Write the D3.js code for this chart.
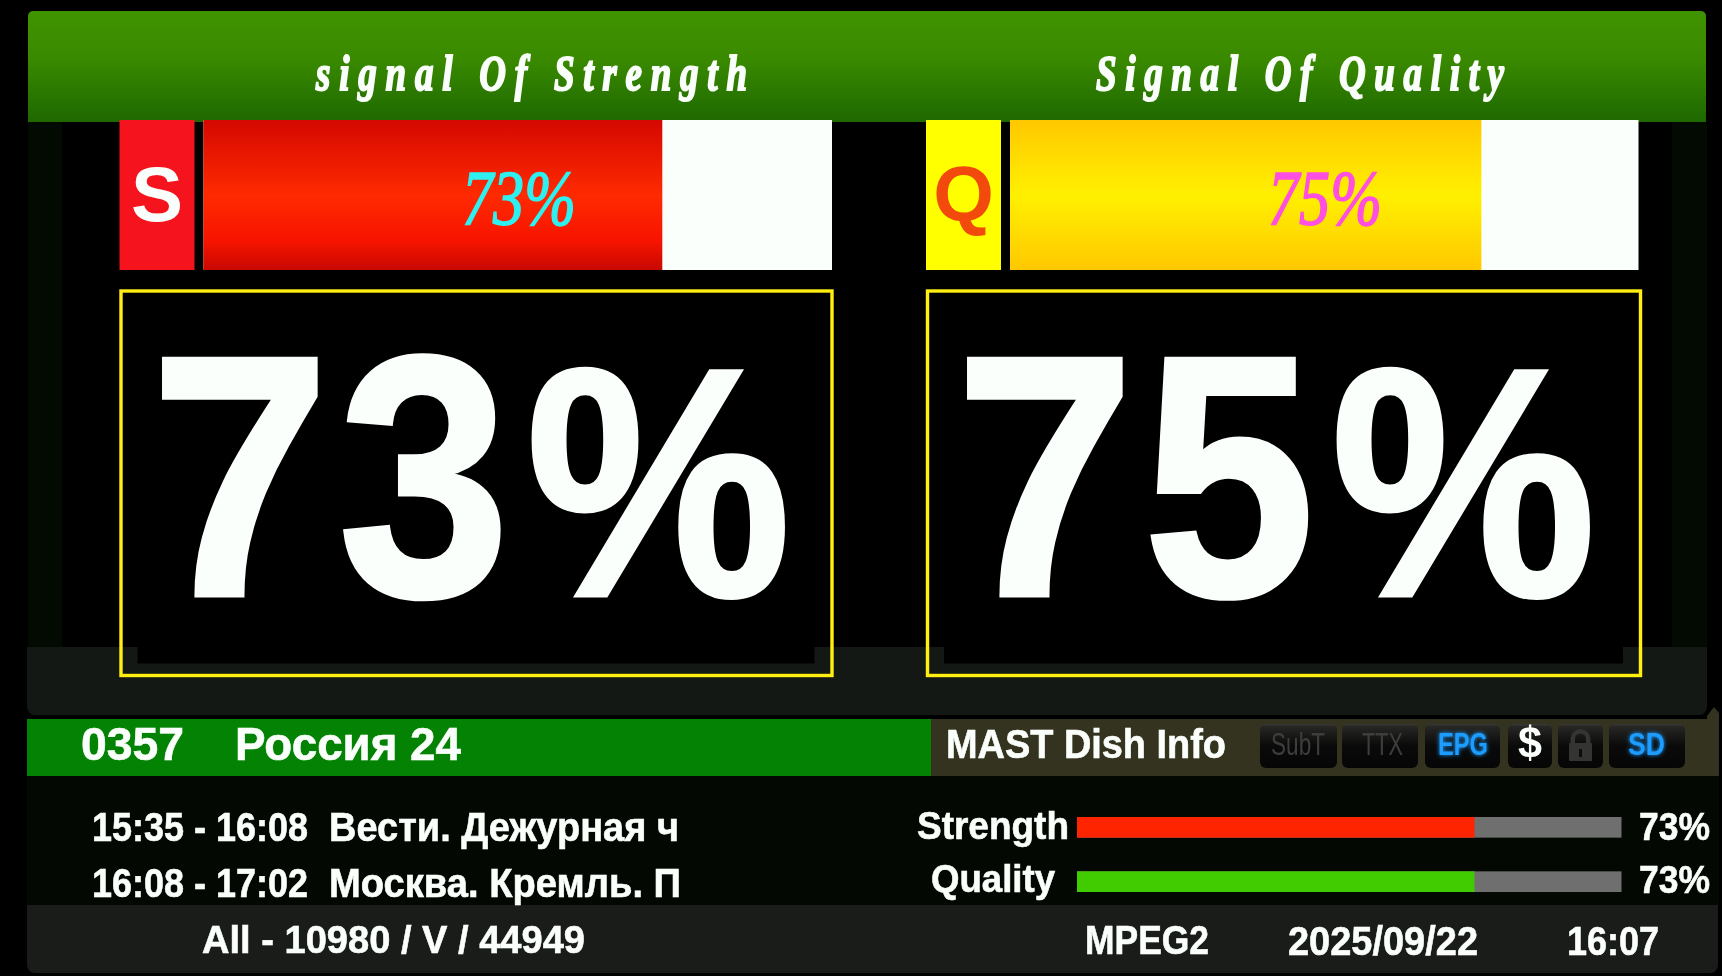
<!DOCTYPE html>
<html>
<head>
<meta charset="utf-8">
<script src="https://cdn.jsdelivr.net/npm/d3@7"></script>
<style>
  html, body { margin: 0; padding: 0; background: #000; overflow: hidden; }
  svg { display: block; }
  text { font-family: "Liberation Sans", Arial, sans-serif; font-weight: 700; fill: #fbfffb; }
</style>
</head>
<body>
<svg id="osd" width="1722" height="976"></svg>
<script>
// top panels
const signalTitles = ["signal Of Strength", "Signal Of Quality"];
const signalLetters = ["S", "Q"];
const signalValues = [73, 75];

// info bar
const channelNumber = "0357";
const channelName = "Россия 24";
const infoTitle = "MAST Dish Info";
const badges = ["SubT", "TTX", "EPG", "$", "", "SD"];

// epg and small meters
const epgTimes = ["15:35 - 16:08", "16:08 - 17:02"];
const epgNames = ["Вести. Дежурная ч", "Москва. Кремль. П"];
const meterLabels = ["Strength", "Quality"];
const meterValues = [73, 73];

// footer
const tpInfo = "All - 10980 / V / 44949";
const codec = "MPEG2";
const dateText = "2025/09/22";
const timeText = "16:07";

const svg = d3.select("#osd");
const defs = svg.append("defs");

function gradient(id, stops) {
    const g = defs.append("linearGradient").attr("id", id)
        .attr("x1", 0).attr("y1", 0).attr("x2", 0).attr("y2", 1);
    stops.forEach(s => g.append("stop").attr("offset", s[0]).attr("stop-color", s[1]));
}
gradient("headGrad", [[0, "#3f9200"], [0.4, "#3a8a00"], [1, "#1e6800"]]);
gradient("redGrad", [[0, "#d40800"], [0.5, "#ff2a00"], [0.8, "#f81400"], [1, "#c80800"]]);
gradient("amberGrad", [[0, "#ffc800"], [0.5, "#fff000"], [1, "#ffc800"]]);
gradient("chipGrad", [[0, "#3a3a38"], [0.06, "#262624"], [0.5, "#0a0a0a"], [1, "#060606"]]);

defs.append("filter").attr("id", "soft")
    .append("feGaussianBlur").attr("stdDeviation", 0.7);

// blue badge text has a glow round it
const glow = defs.append("filter").attr("id", "glow")
    .attr("x", "-30%").attr("y", "-30%").attr("width", "160%").attr("height", "160%");
glow.append("feGaussianBlur").attr("stdDeviation", 2.2).attr("result", "wide");
glow.append("feGaussianBlur").attr("in", "SourceGraphic").attr("stdDeviation", 0.6).attr("result", "thin");
const glowMerge = glow.append("feMerge");
glowMerge.append("feMergeNode").attr("in", "wide");
glowMerge.append("feMergeNode").attr("in", "thin");

function box(x, y, w, h, fill, r) {
    return svg.append("rect").attr("x", x).attr("y", y).attr("width", w).attr("height", h)
        .attr("rx", r || 0).attr("fill", fill);
}

// text fitted between x0 and x1, the source picture is squeezed so widths are forced
function label(str, x0, x1, base, size, opts) {
    const o = opts || {};
    const t = svg.append("text")
        .attr("x", x0).attr("y", base)
        .attr("font-size", size)
        .attr("textLength", x1 - x0)
        .attr("lengthAdjust", "spacingAndGlyphs")
        .attr("filter", o.filter || "url(#soft)")
        .style("fill", o.fill || "#fbfffb")
        .style("font-family", o.family || null)
        .style("font-style", o.style || null)
        .style("font-weight", o.weight || null)
        .text(str);
    if (o.stroke) t.attr("stroke", o.fill || "#fbfffb").attr("stroke-width", o.stroke);
    return t;
}

// title font: narrow glyphs with wide gaps between them
function spacedLabel(str, x0, x1, base, size, squeeze) {
    return svg.append("text")
        .attr("transform", `translate(${x0},${base}) scale(${squeeze},1)`)
        .attr("font-size", size)
        .attr("textLength", (x1 - x0) / squeeze)
        .attr("lengthAdjust", "spacing")
        .attr("filter", "url(#soft)")
        .attr("stroke", "#fbfffb").attr("stroke-width", 2)
        .style("font-family", '"Liberation Serif", serif')
        .style("font-style", "italic")
        .text(str);
}

// backgrounds
box(28, 122, 34, 525, "#020a02");
box(1672, 122, 35, 525, "#020a02");
box(27, 647, 1680, 68, "#141815", 8);
box(27, 647, 1680, 30, "#141815");
box(27, 776, 1692, 130, "#030803");
box(27, 905, 1691, 68, "#1a1c1a", 8);
box(27, 905, 1691, 30, "#1a1c1a");

// header
box(28, 11, 1678, 30, "#3f9200", 5);
box(28, 16, 1678, 106, "url(#headGrad)");

// top panels
const panelX = [203.5, 1010];
const panelW = 628.5;
const letterX = [119.5, 926];
const letterFill = ["#f5141e", "#ffff00"];
const letterInk = ["#fbfffb", "#f24a08"];
const barFill = ["url(#redGrad)", "url(#amberGrad)"];
const titleSpan = [[316, 747], [1096, 1504]];
const barTextSpan = [[462, 576], [1268, 1382]];
const barTextInk = ["#2ef0f0", "#ff50e0"];
const frameW = [714, 716];
const bigShift = [0, 805];
// one span per glyph of the big read-out, digits and the percent sign differ in width
const bigGlyphs = [
    { span: [150, 330], size: 344 },
    { span: [338, 510], size: 344 },
    { span: [526, 791], size: 326 }
];

const signalX = signalValues.map((v, i) =>
    d3.scaleLinear().domain([0, 100]).range([panelX[i], panelX[i] + panelW]));

signalValues.forEach((v, i) => {
    spacedLabel(signalTitles[i], titleSpan[i][0], titleSpan[i][1], 90, 50, 0.74);

    box(letterX[i], 120, 75, 150, letterFill[i]);
    svg.append("text").attr("x", letterX[i] + 37.5).attr("y", 221)
        .attr("text-anchor", "middle").attr("font-size", 78)
        .attr("filter", "url(#soft)")
        .style("fill", letterInk[i]).text(signalLetters[i]);

    // track and filled part
    box(signalX[i](0), 120, signalX[i](100) - signalX[i](0), 150, "#fbfffb");
    svg.append("g").selectAll("rect").data([v]).join("rect")
        .attr("x", signalX[i](0)).attr("y", 120)
        .attr("width", d => signalX[i](d) - signalX[i](0)).attr("height", 150)
        .attr("fill", barFill[i]);

    label(v + "%", barTextSpan[i][0], barTextSpan[i][1], 224, 78,
        { family: '"Liberation Serif", serif', style: "italic", weight: 400, fill: barTextInk[i], stroke: 1.6 });

    // big read-out
    const bx = letterX[i];
    box(bx + 18, 292, frameW[i] - 37, 371.5, "#000");
    box(bx + 1.5, 291, frameW[i] - 3, 384.5, "none")
        .attr("stroke", "#ffee10").attr("stroke-width", 3.4);
    (v + "%").split("").forEach((ch, j) => {
        const g = bigGlyphs[j];
        label(ch, g.span[0] + bigShift[i], g.span[1] + bigShift[i], 595.5, g.size, { stroke: 4 });
    });
});

// info bar
const heavy = { stroke: 0.6 };
box(27, 719, 904, 57, "#038203");
box(931, 719, 788, 57, "#34331f");
svg.append("path").attr("d", d3.line()([[1707, 720], [1707, 716], [1714, 707], [1719, 713], [1719, 720]]))
    .attr("fill", "#34331f");
label(channelNumber, 81, 184, 760, 47, heavy);
label(channelName, 235, 461, 760, 47, heavy);
label(infoTitle, 946, 1226, 758, 41, heavy);

// badges
const badgeSpan = [[1260, 1337], [1342, 1418], [1425, 1500], [1508, 1552], [1558, 1603], [1609, 1685]];
const badgeText = [[1271, 1325], [1362, 1403], [1438, 1488], [1518, 1542], null, [1628, 1665]];
const badgeInk = ["#3e3e3c", "#3e3e3c", "#1e9cff", "#fbfffb", "#3e3e3c", "#1e9cff"];
badges.forEach((b, i) => {
    box(badgeSpan[i][0], 724, badgeSpan[i][1] - badgeSpan[i][0], 44, "url(#chipGrad)", 6);
    if (badgeText[i]) {
        const lit = badgeInk[i] === "#1e9cff";
        label(b, badgeText[i][0], badgeText[i][1], b === "$" ? 758 : 755, b === "$" ? 44 : 31,
            { fill: badgeInk[i], weight: lit || b === "$" ? 700 : 400, filter: lit ? "url(#glow)" : "url(#soft)" });
    }
});
// lock icon
const lockX = (badgeSpan[4][0] + badgeSpan[4][1]) / 2;
const lockInk = "#343432";
svg.append("path")
    .attr("d", d3.arc()({ innerRadius: 5.5, outerRadius: 10, startAngle: -Math.PI / 2, endAngle: Math.PI / 2 }))
    .attr("transform", `translate(${lockX},739)`)
    .attr("fill", lockInk);
box(lockX - 10, 739, 4.5, 5, lockInk);
box(lockX + 5.5, 739, 4.5, 5, lockInk);
box(lockX - 11.5, 743, 23, 18, lockInk, 1);
box(lockX - 1.5, 749, 3, 8, "#0c0c0c");

// epg lines
const epgBase = [841, 897];
const epgNameEnd = [679, 681];
epgTimes.forEach((t, i) => {
    label(t, 92, 308, epgBase[i], 40, heavy);
    label(epgNames[i], 329, epgNameEnd[i], epgBase[i], 40, heavy);
});

// small meters
const meterX = d3.scaleLinear().domain([0, 100]).range([1077, 1621.5]);
const meterY = d3.scaleBand().domain(meterLabels).range([817, 892]).paddingInner(0.62);
const meterFill = ["#ff2400", "#40cc00"];
const labelSpan = [[917, 1069], [931, 1055]];
const labelBase = [839, 892];

svg.append("g").selectAll("rect").data(meterLabels).join("rect")
    .attr("x", meterX(0)).attr("y", d => meterY(d))
    .attr("width", meterX(100) - meterX(0)).attr("height", meterY.bandwidth())
    .attr("fill", "#6f6f6f");
svg.append("g").selectAll("rect").data(meterValues).join("rect")
    .attr("x", meterX(0)).attr("y", (d, i) => meterY(meterLabels[i]))
    .attr("width", d => meterX(d) - meterX(0)).attr("height", meterY.bandwidth())
    .attr("fill", (d, i) => meterFill[i]);

meterLabels.forEach((m, i) => {
    label(m, labelSpan[i][0], labelSpan[i][1], labelBase[i], 38, heavy);
    label(meterValues[i] + "%", 1639, 1710, labelBase[i] + 1, 39, heavy);
});

// footer
label(tpInfo, 202, 585, 953, 39, heavy);
label(codec, 1085, 1209, 954, 40, heavy);
label(dateText, 1288, 1478, 955, 40, heavy);
label(timeText, 1567, 1659, 955, 40, heavy);
</script>
</body>
</html>
